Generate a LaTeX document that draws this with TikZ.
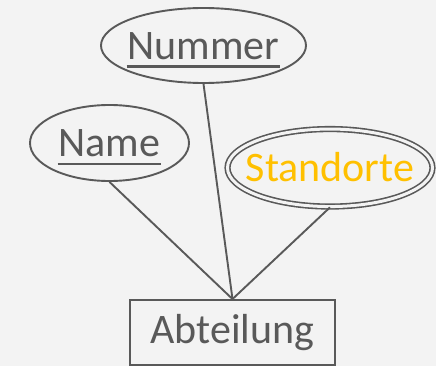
\documentclass[tikz,border=0pt]{standalone}
\usepackage{fontspec}
\setmainfont{Carlito}
\usepackage{tikz}
\usetikzlibrary{shapes.geometric}
\definecolor{ergray}{HTML}{595959}
\definecolor{erback}{HTML}{F3F3F3}
\definecolor{erorange}{HTML}{FFC000}

% text of an attribute, centred by hand in its ellipse
\newcommand{\attrtext}[1]{\makebox[0pt]{\raisebox{-14pt}[0pt][0pt]{#1}}}
% underlined key attribute
\newlength{\keywd}
\newcommand{\keytext}[1]{\settowidth{\keywd}{#1}\rlap{\hspace{-1pt}\rule[-8.3pt]{\dimexpr\keywd+2pt}{2.4pt}}#1}

\begin{document}
\begin{tikzpicture}[x=1pt,y=-1pt,line width=1.9pt,
	attr/.style={ellipse, draw=ergray, inner sep=0pt, text=ergray, font=\fontsize{42}{48}\selectfont},
	entity/.style={rectangle, draw=ergray, inner sep=0pt, text=ergray, font=\fontsize{42}{48}\selectfont}]
	
	\fill[erback] (0,0) rectangle (436,366);
	\useasboundingbox (0,0) rectangle (436,366);
	
	\node[attr, minimum width=205pt, minimum height=75pt] (nummer) at (203.5,45.5) {\attrtext{\keytext{Nummer}}};
	\node[attr, minimum width=159pt, minimum height=76pt] (name) at (109.5,143) {\attrtext{\keytext{Name}}};
	\node[attr, line width=1.6pt, double=erback, double distance=3pt, minimum width=205pt, minimum height=77.5pt, text=erorange] (standorte) at (330,167.8) {\attrtext{Standorte}};
	\node[entity, minimum width=205pt, minimum height=65pt] (abteilung) at (232.5,332.5) {Abteilung};
	
	\draw[ergray] (name.south) -- (abteilung.north);
	\draw[ergray] (nummer.south) -- (abteilung.north);
	\draw[ergray] (standorte.south) -- (abteilung.north);
\end{tikzpicture}
\end{document}
